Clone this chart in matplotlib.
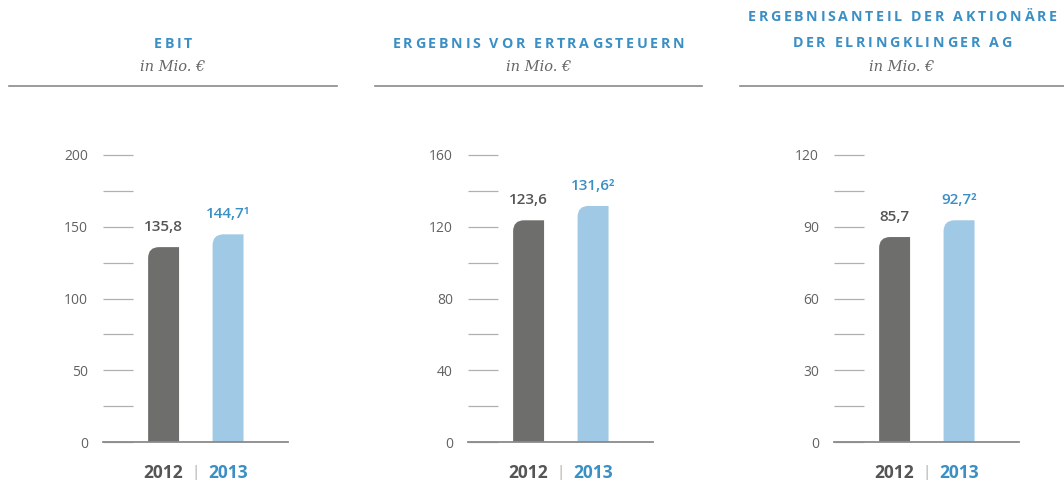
import matplotlib
matplotlib.use("Agg")
import matplotlib.pyplot as plt
from matplotlib.path import Path
from matplotlib.patches import PathPatch
from matplotlib.ticker import MultipleLocator
from matplotlib.textpath import TextToPath
from matplotlib.font_manager import FontProperties

# ---- data ----
years = ["2012", "2013"]
titles = [["EBIT"], ["ERGEBNIS VOR ERTRAGSTEUERN"],
          ["ERGEBNISANTEIL DER AKTIONÄRE", "DER ELRINGKLINGER AG"]]
subtitle = "in Mio. €"
values = [[135.8, 144.7], [123.6, 131.6], [85.7, 92.7]]
value_labels = [["135,8", "144,7¹"], ["123,6", "131,6²"], ["85,7", "92,7²"]]
y_max = [200, 160, 120]
y_step = [50, 40, 30]

# ---- style ----
DARK = "#6e6e6c"
LIGHT = "#9fc9e4"
BLUE = "#3a8fc5"
TEXT_DARK = "#555555"
TICK_TXT = "#626262"
TICK_LINE = "#b0b0b0"
BASE = "#8a8a8a"
SANS = ["Open Sans", "DejaVu Sans"]
SERIF = ["DejaVu Serif"]

W, H = 1064, 482
fig = plt.figure(figsize=(W / 100, H / 100), dpi=100)

def px(x, y):
    return x / W, 1 - y / H

panel_offsets = [0, 365, 731]
header_centers = [173, 538.5, 902]
header_lines = [(9, 337), (375, 702), (740, 1064)]

TITLE_SIZE = 10.3
TRACK_PX = 2.6
title_prop = FontProperties(family="Open Sans", weight="bold", size=TITLE_SIZE)
t2p = TextToPath()

def char_w(c):
    w, h, d = t2p.get_text_width_height_descent(c, title_prop, ismath=False)
    return w * 100 / 72

def tracked_text(s, cx, cy):
    widths = [char_w(c) for c in s]
    total = sum(widths) + TRACK_PX * (len(s) - 1)
    x = cx - total / 2
    for c, w in zip(s, widths):
        if c != " ":
            fig.text(*px(x, cy), c, ha="left", va="center", fontproperties=title_prop,
                     color=BLUE)
        x += w + TRACK_PX

for i in range(3):
    off = panel_offsets[i]
    left, right, top, bottom = 103 + off, 288 + off, 155, 442
    ax = fig.add_axes([left / W, (H - bottom) / H, (right - left) / W, (bottom - top) / H])
    ax.set_xlim(-0.94, 1.93)
    ax.set_ylim(0, y_max[i])
    for s in ["left", "right", "top"]:
        ax.spines[s].set_visible(False)
    ax.spines["bottom"].set_color(BASE)
    ax.spines["bottom"].set_linewidth(1.3)
    ax.set_yticks(range(0, y_max[i] + 1, y_step[i]))
    ax.yaxis.set_minor_locator(MultipleLocator(y_step[i] / 2))
    ax.tick_params(axis="y", which="both", direction="in", length=21.6, width=0.9,
                   color=TICK_LINE, pad=10.8, labelsize=10, labelcolor=TICK_TXT)
    for lab in ax.get_yticklabels():
        lab.set_family(SANS)
    ax.set_xticks([0, 1])
    ax.set_xticklabels(years)
    ax.tick_params(axis="x", length=0, pad=15.5)
    for lab, c in zip(ax.get_xticklabels(), [TEXT_DARK, BLUE]):
        lab.set_color(c)
        lab.set_fontweight("bold")
        lab.set_fontsize(12.5)
        lab.set_family(SANS)
    ax.patch.set_alpha(0)

    bars = ax.bar([0, 1], values[i], width=0.48, color=[DARK, LIGHT])
    # replace with rounded top-left corner shapes
    sx = ax.transData.transform((1, 0))[0] - ax.transData.transform((0, 0))[0]
    sy = ax.transData.transform((0, 1))[1] - ax.transData.transform((0, 0))[1]
    r = 11
    rx, ry = r / sx, r / sy
    for b in bars:
        x0, w, h = b.get_x(), b.get_width(), b.get_height()
        x1 = x0 + w
        verts = [(x0, 0), (x0, h - ry), (x0, h), (x0 + rx, h), (x1, h), (x1, 0), (x0, 0)]
        codes = [Path.MOVETO, Path.LINETO, Path.CURVE3, Path.CURVE3, Path.LINETO,
                 Path.LINETO, Path.CLOSEPOLY]
        patch = PathPatch(Path(verts, codes), facecolor=b.get_facecolor(),
                          edgecolor="none", clip_on=False)
        b.set_visible(False)
        ax.add_patch(patch)

    for j in range(2):
        ax.annotate(value_labels[i][j], (j, values[i][j]), xytext=(0, 14.5),
                    textcoords="offset points", ha="center", va="center",
                    fontsize=11, fontweight="semibold", family=SANS,
                    color=TEXT_DARK if j == 0 else BLUE, annotation_clip=False)

    ax.annotate("|", (0.5, 0), xytext=(0, -22), textcoords="offset points",
                ha="center", va="center", fontsize=11, color="#aaaaaa",
                family=SANS, annotation_clip=False)

    # headers
    cx = header_centers[i]
    tl = titles[i]
    ys = [44] if len(tl) == 1 else [17, 43]
    for t, yy in zip(tl, ys):
        tracked_text(t, cx, yy)
    fig.text(*px(cx, 67), subtitle, ha="center", va="center", fontsize=10.5,
             style="italic", color="#666666", family=SERIF)
    x_a, x_b = header_lines[i]
    fig.add_artist(plt.Line2D([x_a / W, x_b / W], [1 - 86 / H] * 2, color="#8a8a8a",
                              linewidth=1.2, transform=fig.transFigure))

fig.savefig("out.png", dpi=100)
